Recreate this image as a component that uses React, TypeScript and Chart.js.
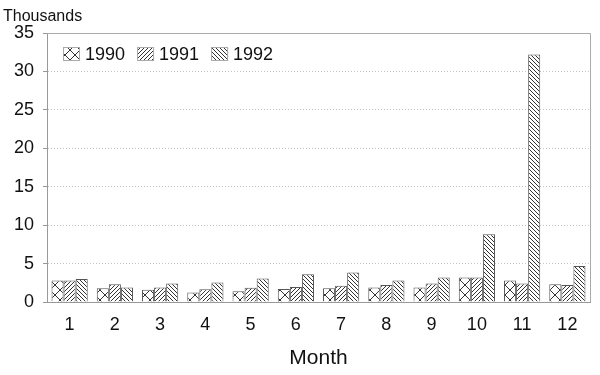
import React, { useEffect, useRef } from "react";
import { Chart, registerables } from "chart.js";

Chart.register(...registerables);

const months = ["1", "2", "3", "4", "5", "6", "7", "8", "9", "10", "11", "12"];
const seriesLabels = ["1990", "1991", "1992"];
const s1990 = [2.8, 1.8, 1.6, 1.25, 1.4, 1.7, 1.8, 1.9, 1.9, 3.2, 2.8, 2.3];
const s1991 = [2.8, 2.3, 1.9, 1.65, 1.85, 1.95, 2.1, 2.2, 2.4, 3.2, 2.4, 2.2];
const s1992 = [3.0, 1.9, 2.4, 2.55, 3.05, 3.6, 3.85, 2.8, 3.2, 8.8, 32.2, 4.7];
const yTicks = [0, 5, 10, 15, 20, 25, 30, 35];

const FONT = "'Liberation Sans', Arial, Helvetica, sans-serif";

function makePattern(kind: string): CanvasPattern | string {
  const c = document.createElement("canvas");
  const size = kind === "cross" ? 10 : 4;
  c.width = size;
  c.height = size;
  const ctx = c.getContext("2d")!;
  ctx.fillStyle = "#ffffff";
  ctx.fillRect(0, 0, size, size);
  ctx.strokeStyle = "#333";
  ctx.lineWidth = 1;
  ctx.beginPath();
  if (kind === "cross" || kind === "fwd") {
    ctx.moveTo(-1, size + 1);
    ctx.lineTo(size + 1, -1);
    ctx.moveTo(-1 - size, size + 1);
    ctx.lineTo(1, -1);
    ctx.moveTo(size - 1, size + 1);
    ctx.lineTo(size * 2 + 1, -1);
  }
  if (kind === "cross" || kind === "back") {
    ctx.moveTo(-1, -1);
    ctx.lineTo(size + 1, size + 1);
    ctx.moveTo(-1 - size, -1);
    ctx.lineTo(1, size + 1);
    ctx.moveTo(size - 1, -1);
    ctx.lineTo(size * 2 + 1, size + 1);
  }
  ctx.stroke();
  const p = ctx.createPattern(c, "repeat");
  return p || "#888";
}

export default function App() {
  const ref = useRef<HTMLCanvasElement | null>(null);
  useEffect(() => {
    document.body.style.margin = "0";
    const canvas = ref.current!;
    const framePlugin = {
      id: "frame",
      afterDraw(chart: any) {
        const { ctx, chartArea } = chart;
        ctx.save();
        ctx.strokeStyle = "#aaaaaa";
        ctx.lineWidth = 1;
        ctx.beginPath();
        ctx.moveTo(chartArea.left, chartArea.top + 0.5);
        ctx.lineTo(chartArea.right + 0.5, chartArea.top + 0.5);
        ctx.lineTo(chartArea.right + 0.5, chartArea.bottom);
        ctx.stroke();
        ctx.fillStyle = "#111";
        ctx.font = `16px ${FONT}`;
        ctx.textBaseline = "middle";
        ctx.textAlign = "left";
        ctx.fillText("Thousands", 3, 17);
        // legend inside plot
        ctx.font = `18px ${FONT}`;
        let x = chartArea.left + 16;
        const y = chartArea.top + 21;
        chart.data.datasets.forEach((ds: any) => {
          ctx.fillStyle = ds.backgroundColor;
          ctx.fillRect(x, y - 7, 17, 14);
          ctx.strokeStyle = "#aaa";
          ctx.strokeRect(x + 0.5, y - 6.5, 16, 13);
          ctx.fillStyle = "#111";
          ctx.fillText(ds.label, x + 22, y + 1);
          x += 22 + ctx.measureText(ds.label).width + 12;
        });
        ctx.restore();
      },
    };
    const chart = new Chart(canvas, {
      type: "bar",
      data: {
        labels: months,
        datasets: [
          { label: seriesLabels[0], data: s1990, backgroundColor: makePattern("cross") as any, borderColor: "#555", borderWidth: 1 },
          { label: seriesLabels[1], data: s1991, backgroundColor: makePattern("fwd") as any, borderColor: "#555", borderWidth: 1 },
          { label: seriesLabels[2], data: s1992, backgroundColor: makePattern("back") as any, borderColor: "#555", borderWidth: 1 },
        ],
      },
      options: {
        animation: false,
        responsive: false,
        layout: { padding: { left: 0, top: 33, right: 10, bottom: 0 } },
        datasets: { bar: { categoryPercentage: 0.8, barPercentage: 1.0 } },
        plugins: {
          tooltip: { enabled: false },
          legend: { display: false },
        },
        scales: {
          x: {
            grid: { display: false, drawTicks: false },
            border: { color: "#999", width: 1 },
            ticks: { color: "#111", font: { family: FONT, size: 18 }, padding: 12 },
            title: { display: true, text: "Month", color: "#111", font: { family: FONT, size: 21 }, padding: { top: 5 } },
            afterFit(scale: any) {
              scale.height = 73;
            },
          },
          y: {
            min: 0,
            max: 35,
            afterBuildTicks(scale: any) {
              scale.ticks = yTicks.map((v) => ({ value: v }));
            },
            grid: {
              color: "#c4c4c4",
              tickColor: "#999",
              tickLength: 4,
              tickBorderDash: [],
            },
            border: { color: "#999", width: 1, dash: [1, 2] },
            ticks: { color: "#111", font: { family: FONT, size: 18 }, padding: 9 },
            afterFit(scale: any) {
              scale.width = 47;
            },
          },
        },
      },
      plugins: [framePlugin],
    } as any);
    return () => chart.destroy();
  }, []);
  return (
    <div style={{ position: "absolute", left: 0, top: 0, width: 600, height: 375 }}>
      <canvas ref={ref} width={600} height={375} />
    </div>
  );
}
